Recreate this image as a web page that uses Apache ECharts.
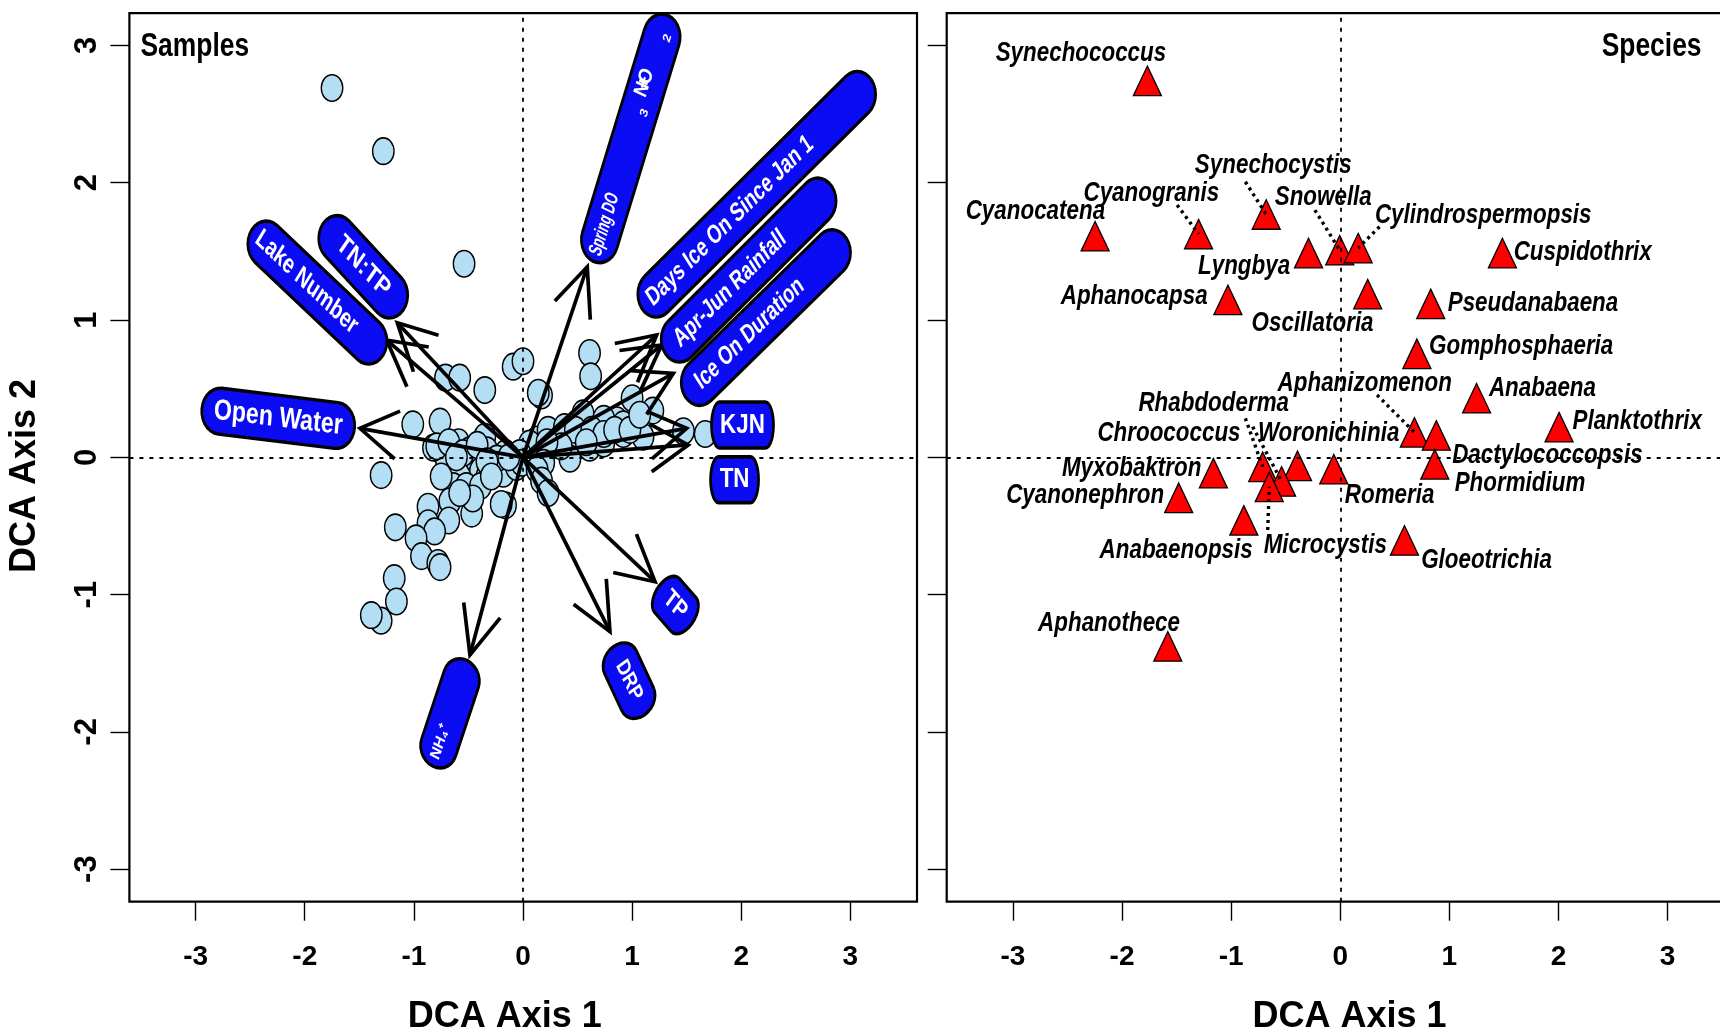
<!DOCTYPE html>
<html>
<head>
<meta charset="utf-8">
<script src="https://cdn.jsdelivr.net/npm/echarts@6.0.0/dist/echarts.min.js"></script>
<style>
  html, body { margin: 0; padding: 0; background: #ffffff; }
  #main { width: 1720px; height: 1027px; }
</style>
</head>
<body>
<div id="main"></div>
<script>
// ---------------------------------------------------------------------------
// DCA ordination of cyanobacteria samples and species
// ---------------------------------------------------------------------------

// Sample scores [DCA axis 1, DCA axis 2]
const sampleScores = [
  [-1.75, 2.69], [-1.28, 2.23], [-0.54, 1.41], [-0.09, 0.66], [0.00, 0.70],
  [0.61, 0.76], [0.62, 0.59], [0.17, 0.45], [0.14, 0.47], [-0.71, 0.58],
  [-0.58, 0.58], [-0.35, 0.49], [-1.01, 0.24], [-0.76, 0.26], [-1.30, -0.13],
  [1.00, 0.43], [1.19, 0.34], [1.47, 0.19], [1.67, 0.17], [0.92, 0.17],
  [1.10, 0.15],
  [0.31, 0.17], [0.43, 0.13], [0.55, 0.15], [0.71, 0.15], [0.80, 0.21],
  [0.58, 0.25], [0.49, 0.08], [0.43, -0.01], [0.61, 0.07], [0.74, 0.10],
  [0.86, 0.27], [0.92, 0.24], [0.28, 0.09], [0.19, 0.03], [0.13, 0.13],
  [0.06, 0.10], [0.55, 0.32], [0.74, 0.28],
  [0.23, 0.20], [0.38, 0.22], [0.48, 0.20], [0.63, 0.20], [0.74, 0.17],
  [0.84, 0.20], [0.98, 0.20], [0.58, 0.11], [0.35, 0.08], [0.22, 0.11],
  [1.07, 0.31],
  [-0.75, 0.05], [-0.64, 0.09], [-0.59, 0.11], [-0.49, 0.05], [-0.35, 0.15],
  [-0.33, 0.05], [-0.46, -0.02], [-0.58, -0.07], [-0.67, -0.14], [-0.49, -0.12],
  [-0.39, -0.10], [-0.27, -0.07], [-0.16, 0.03], [-0.18, -0.12], [-0.06, -0.07],
  [-0.03, 0.03], [-0.70, -0.03], [-0.82, 0.07],
  [-0.79, 0.08], [-0.68, 0.11], [-0.55, 0.03], [-0.42, 0.09], [-0.24, -0.01],
  [-0.33, -0.14], [-0.58, -0.14], [-0.64, -0.21],
  [-0.01, -0.04], [-0.13, 0.00], [-0.33, -0.03], [-0.61, 0.00], [-0.75, -0.14],
  [-0.52, -0.21], [-0.39, -0.21], [-0.29, -0.14], [0.19, -0.04], [0.13, -0.09],
  [-0.67, -0.32], [-0.47, -0.41], [-0.68, -0.46], [-0.87, -0.36], [-0.87, -0.48],
  [-0.81, -0.54], [-0.98, -0.59], [-0.93, -0.72], [-0.78, -0.77], [-0.76, -0.80],
  [-0.16, -0.35], [-0.20, -0.34], [-1.17, -0.51], [-1.18, -0.88], [-1.16, -1.05],
  [-1.30, -1.19], [-1.39, -1.15], [-0.46, -0.30], [-0.58, -0.26],
  [0.17, -0.17], [0.23, -0.26]
];

// Fitted environmental vectors: arrow tips on DCA axes 1 and 2
const envNames = [
  'Open Water', 'Lake Number', 'TN:TP', 'Spring DO', 'Days Ice On Since Jan 1',
  'Apr-Jun Rainfall', 'Ice On Duration', 'KJN', 'TN', 'TP', 'DRP', 'NH\u2084\u207A'
];
const envAxis1 = [-1.494, -1.249, -1.152, 0.589, 1.225, 1.271, 1.378, 1.500, 1.515, 1.210, 0.797, -0.486];
const envAxis2 = [0.211, 0.854, 0.980, 1.388, 0.891, 0.818, 0.612, 0.211, 0.090, -0.906, -1.270, -1.440];
// Label box centres on the same axes
const envLabelAxis1 = [-2.243, -1.884, -1.464, 0.988, 2.142, 2.068, 2.226, 2.012, 1.939, 1.396, 0.972, -0.669];
const envLabelAxis2 = [0.284, 1.200, 1.388, 2.323, 1.916, 1.364, 1.018, 0.235, -0.163, -1.076, -1.627, -1.865];

// Species scores
const speciesNames = [
  'Synechococcus', 'Cyanocatena', 'Cyanogranis', 'Synechocystis', 'Lyngbya',
  'Snowella', 'Cylindrospermopsis', 'Cuspidothrix', 'Oscillatoria', 'Aphanocapsa',
  'Pseudanabaena', 'Gomphosphaeria', 'Anabaena', 'Planktothrix', 'Aphanizomenon',
  'Dactylococcopsis', 'Phormidium', 'Romeria', 'Woronichinia', 'Rhabdoderma',
  'Myxobaktron', 'Chroococcus', 'Microcystis', 'Cyanonephron', 'Anabaenopsis',
  'Gloeotrichia', 'Aphanothece'
];
const speciesAxis1 = [
  -1.768, -2.247, -1.299, -0.679, -0.291, -0.005, 0.164, 1.486, 0.251, -1.030,
  0.829, 0.702, 1.249, 2.005, 0.679, 0.880, 0.866, -0.060, -0.392, -0.711,
  -1.163, -0.538, -0.651, -1.481, -0.884, 0.588, -1.581
];
const speciesAxis2 = [
  2.706, 1.575, 1.590, 1.733, 1.452, 1.473, 1.488, 1.452, 1.153, 1.111,
  1.082, 0.718, 0.395, 0.184, 0.146, 0.124, -0.087, -0.122, -0.098, -0.105,
  -0.151, -0.211, -0.251, -0.331, -0.495, -0.641, -1.413
];
// Species label anchors (text centres)
const speciesLabelAxis1 = [
  -2.377, -2.794, -1.732, -0.614, -0.882, -0.156, 1.310, 2.222, -0.254, -1.889,
  1.766, 1.658, 1.853, 2.721, 0.224, 1.898, 1.647, 0.452, -0.107, -1.160,
  -1.912, -1.570, -0.137, -2.338, -1.504, 1.340, -2.119
];
const speciesLabelAxis2 = [
  2.942, 1.789, 1.923, 2.124, 1.388, 1.894, 1.765, 1.493, 0.976, 1.170,
  1.122, 0.806, 0.503, 0.259, 0.539, 0.017, -0.189, -0.275, 0.175, 0.393,
  -0.080, 0.175, -0.639, -0.275, -0.675, -0.748, -1.209
];
// Dotted leaders from crowded labels back to their species
const leaderSpecies = ['Synechocystis', 'Cyanogranis', 'Snowella', 'Cylindrospermopsis',
  'Aphanizomenon', 'Rhabdoderma', 'Chroococcus', 'Microcystis'];
const leaderAxis1 = [-0.870, -1.495, -0.233, 0.360, 0.337, -0.870, -0.803, -0.665];
const leaderAxis2 = [2.007, 1.838, 1.801, 1.680, 0.454, 0.284, 0.223, -0.529];

const tickValues = [-3, -2, -1, 0, 1, 2, 3];

// ---------------------------------------------------------------------------
// Drawing helpers
// ---------------------------------------------------------------------------
const SQUASH = 0.8;               // horizontal compression of the printed figure
const FONT = '"Liberation Sans", Arial, sans-serif';
const BOX_BLUE = '#0c0cf4';

// per-label box styling: screen angle (deg), screen length (px), font size,
// end radius, text compression along its baseline, text shift toward its start
const envBoxStyle = [
  { angle: -7,    len: 154,   size: 29, r: 23, tScale: 1.0,  shift: 0 },
  { angle: -43.5, len: 181.5, size: 27, r: 23, tScale: 0.9,  shift: -17 },
  { angle: -47.3, len: 118,   size: 27, r: 23, tScale: 1.0,  shift: 0 },
  { angle: 73,    len: 257,   size: 24, r: 23, tScale: 0.55, shift: -92, custom: 'spring' },
  { angle: 44.8,  len: 324,   size: 27, r: 23, tScale: 0.83, shift: -43 },
  { angle: 45,    len: 236,   size: 27, r: 23, tScale: 0.82, shift: -30 },
  { angle: 44.4,  len: 226,   size: 27, r: 23, tScale: 0.82, shift: -26 },
  { angle: 0,     len: 62,    size: 28, r: 10, tScale: 1.0,  shift: 0 },
  { angle: 0,     len: 48,    size: 28, r: 10, tScale: 1.0,  shift: 0 },
  { angle: -48.7, len: 50,    size: 26, r: 14, tScale: 0.9,  shift: 0 },
  { angle: -65.1, len: 75,    size: 24, r: 18, tScale: 0.85, shift: 0 },
  { angle: 71.6,  len: 111,   size: 18, r: 20, tScale: 0.9,  shift: -31 }
];

function roundedBoxPoints(len, thick, r) {
  const a = len / 2, b = thick / 2, n = 14;
  const pts = [];
  for (let k = 0; k <= n; k++) {
    const t = -Math.PI / 2 + Math.PI * k / n;
    pts.push([a - r + r * Math.cos(t), b * Math.sin(t)]);
  }
  for (let k = 0; k <= n; k++) {
    const t = Math.PI / 2 + Math.PI * k / n;
    pts.push([-a + r + r * Math.cos(t), b * Math.sin(t)]);
  }
  return pts;
}

function whiteText(x, y, text, font, sx) {
  return {
    type: 'text', x: x, y: y, scaleX: sx || 1,
    style: { text: text, font: font, fill: '#fff', align: 'center', verticalAlign: 'middle' }
  };
}

const chart = echarts.init(document.getElementById('main'), null, { renderer: 'canvas' });

const gridTop = 13.2, gridHeight = 888.5, gridWidth = 787.6;
const xMin = -3.607, xMax = 3.611, yMin = -3.237, yMax = 3.235;

function makeXAxis(gridIndex, namePadding) {
  return {
    gridIndex: gridIndex, type: 'value', min: xMin, max: xMax,
    name: 'DCA Axis 1', nameLocation: 'middle', nameGap: 97,
    nameTextStyle: { fontFamily: FONT, fontWeight: 'bold', fontSize: 36, color: '#000',
      padding: namePadding },
    axisLine: { show: false, onZero: false },
    splitLine: { show: false },
    axisTick: { show: true, inside: false, length: 19, customValues: tickValues,
      lineStyle: { color: '#000', width: 1.4 } },
    axisLabel: { show: true, customValues: tickValues, margin: 42, fontFamily: FONT,
      fontWeight: 'bold', fontSize: 28, color: '#000', formatter: v => String(v) }
  };
}
function makeYAxis(gridIndex, withLabels) {
  return {
    gridIndex: gridIndex, type: 'value', min: yMin, max: yMax,
    name: withLabels ? 'DCA Axis 2' : '', nameLocation: 'middle', nameGap: 86,
    nameTextStyle: { fontFamily: FONT, fontWeight: 'bold', fontSize: 36, color: '#000',
      padding: [0, 37, 0, 0] },
    axisLine: { show: false, onZero: false },
    splitLine: { show: false },
    axisTick: { show: true, inside: false, length: 19, customValues: tickValues,
      lineStyle: { color: '#000', width: 1.4 } },
    axisLabel: { show: withLabels, customValues: tickValues, rotate: 90, margin: 26,
      fontFamily: FONT, fontWeight: 'bold', fontSize: 31, color: '#000',
      formatter: v => String(v) }
  };
}

const zeroLines = {
  symbol: 'none', silent: true, animation: false, label: { show: false },
  lineStyle: { color: '#000', width: 1.8, type: [4, 6] },
  data: [{ xAxis: 0 }, { yAxis: 0 }]
};

const option = {
  animation: false,
  backgroundColor: '#ffffff',
  grid: [
    { left: 129.4, top: gridTop, width: gridWidth, height: gridHeight, show: true,
      borderColor: '#000', borderWidth: 2.2, backgroundColor: 'transparent', outerBoundsMode: 'none' },
    { left: 946.7, top: gridTop, width: gridWidth, height: gridHeight, show: true,
      borderColor: '#000', borderWidth: 2.2, backgroundColor: 'transparent', outerBoundsMode: 'none' }
  ],
  xAxis: [makeXAxis(0, [0, 37, 0, 0]), makeXAxis(1, [0, 0, 0, 18])],
  yAxis: [makeYAxis(0, true), makeYAxis(1, false)],
  graphic: [
    { type: 'text', x: 140.5, y: 47, scaleX: SQUASH, z: 100,
      style: { text: 'Samples', font: 'bold 33px ' + FONT, fill: '#000', align: 'left', verticalAlign: 'middle' } },
    { type: 'text', x: 1701.5, y: 47, scaleX: SQUASH, z: 100,
      style: { text: 'Species', font: 'bold 33px ' + FONT, fill: '#000', align: 'right', verticalAlign: 'middle' } }
  ],
  series: [
    // --- Samples panel -----------------------------------------------------
    {
      type: 'scatter', xAxisIndex: 0, yAxisIndex: 0, z: 2,
      data: sampleScores,
      symbol: 'circle', symbolSize: [21.5, 26.5],
      itemStyle: { color: '#b3def3', borderColor: '#000', borderWidth: 1.5, opacity: 1 },
      markLine: zeroLines
    },
    {
      type: 'custom', xAxisIndex: 0, yAxisIndex: 0, z: 3,
      data: envAxis1.map((x, i) => [x, envAxis2[i]]),
      renderItem: function (params, api) {
        const o = api.coord([0, 0]);
        const t = api.coord([api.value(0), api.value(1)]);
        // head legs built in the uncompressed frame, then compressed along x
        const dx = (o[0] - t[0]) / SQUASH, dy = o[1] - t[1];
        const ang = Math.atan2(dy, dx);
        const headLen = 53, headAng = 27 * Math.PI / 180;
        const legs = [ang + headAng, ang - headAng].map(a =>
          [t[0] + Math.cos(a) * headLen * SQUASH, t[1] + Math.sin(a) * headLen]);
        return {
          type: 'group',
          children: [
            { type: 'line', shape: { x1: o[0], y1: o[1], x2: t[0], y2: t[1] },
              style: { stroke: '#000', lineWidth: 3.7 } },
            { type: 'polyline', shape: { points: [legs[0], t, legs[1]] },
              style: { stroke: '#000', lineWidth: 3.7, fill: null, lineJoin: 'miter' } }
          ]
        };
      }
    },
    {
      type: 'custom', xAxisIndex: 0, yAxisIndex: 0, z: 4,
      data: envLabelAxis1.map((x, i) => [x, envLabelAxis2[i]]),
      renderItem: function (params, api) {
        const i = params.dataIndex;
        const st = envBoxStyle[i];
        const c = api.coord([api.value(0), api.value(1)]);
        const phi = st.angle * Math.PI / 180;
        const theta = Math.atan2(SQUASH * Math.sin(phi), Math.cos(phi));
        const len = st.len / Math.sqrt(SQUASH * SQUASH * Math.cos(theta) ** 2 + Math.sin(theta) ** 2);
        const thick = 46;
        const children = [{
          type: 'polygon', shape: { points: roundedBoxPoints(len, thick, Math.min(st.r, len / 2)) },
          style: { fill: BOX_BLUE, stroke: '#000', lineWidth: 3.4 }
        }];
        const tf = 'bold ' + st.size + 'px ' + FONT;
        if (st.custom === 'spring') {
          children.push(
            whiteText(st.shift, 0, envNames[i], tf, st.tScale),
            whiteText(58, -4, 'NO', 'bold 24px ' + FONT, 0.8),
            whiteText(58, -4, '+', 'bold 22px ' + FONT),
            whiteText(30, 7, '3', 'bold 14px ' + FONT),
            whiteText(110, 7, '2', 'bold 14px ' + FONT)
          );
        } else {
          children.push(whiteText(st.shift, 0, envNames[i], tf, st.tScale));
        }
        return {
          type: 'group', x: c[0], y: c[1], scaleX: SQUASH,
          children: [{ type: 'group', rotation: theta, children: children }]
        };
      }
    },
    // --- Species panel -----------------------------------------------------
    {
      type: 'scatter', xAxisIndex: 1, yAxisIndex: 1, z: 2,
      data: speciesAxis1.map((x, i) => [x, speciesAxis2[i]]),
      symbol: 'triangle', symbolSize: [28, 29.5], symbolOffset: [0, -4.9],
      itemStyle: { color: '#ff0000', borderColor: '#000', borderWidth: 1.3, opacity: 1 },
      markLine: zeroLines
    },
    {
      type: 'custom', xAxisIndex: 1, yAxisIndex: 1, z: 3,
      data: leaderAxis1.map((x, i) => [x, leaderAxis2[i], speciesNames.indexOf(leaderSpecies[i])]),
      renderItem: function (params, api) {
        const a = api.coord([api.value(0), api.value(1)]);
        const k = api.value(2);
        const b = api.coord([speciesAxis1[k], speciesAxis2[k]]);
        return { type: 'line', shape: { x1: a[0], y1: a[1], x2: b[0], y2: b[1] - 5 },
          style: { stroke: '#000', lineWidth: 3.4, lineDash: [3, 4] } };
      }
    },
    {
      type: 'custom', xAxisIndex: 1, yAxisIndex: 1, z: 4,
      data: speciesLabelAxis1.map((x, i) => [x, speciesLabelAxis2[i]]),
      renderItem: function (params, api) {
        const c = api.coord([api.value(0), api.value(1)]);
        return {
          type: 'text', x: c[0], y: c[1], scaleX: SQUASH,
          style: { text: speciesNames[params.dataIndex], font: 'italic bold 28px ' + FONT,
            fill: '#000', align: 'center', verticalAlign: 'middle' }
        };
      }
    }
  ]
};

chart.setOption(option);
</script>
</body>
</html>
